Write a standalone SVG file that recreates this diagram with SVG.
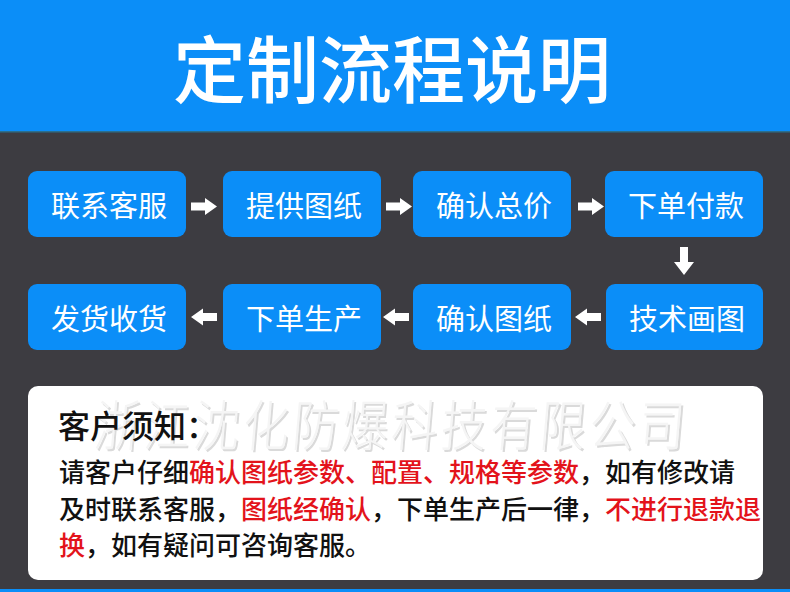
<svg xmlns="http://www.w3.org/2000/svg" width="790" height="592" viewBox="0 0 790 592">
<defs>
<style>
.node rect{fill:#0b8ef8;}
.node text{fill:#ffffff;font-family:"Noto Sans CJK SC","Noto Sans",sans-serif;font-size:29px;text-anchor:middle;}
.arrow{fill:#ffffff;}
.body{font-family:"Noto Sans CJK SC","Noto Sans",sans-serif;font-size:26px;fill:#111111;font-weight:500;}
.red{fill:#e3131b;}
.wm{font-family:"Noto Sans CJK SC",sans-serif;font-size:46px;letter-spacing:3.5px;font-weight:300;}
</style>
</defs>
<rect x="0" y="0" width="790" height="592" fill="#3d3c41"/>
<rect x="0" y="0" width="790" height="132" fill="#0b8ef8"/>
<rect x="0" y="131" width="790" height="1.5" fill="#2d6f8c"/>
<rect x="0" y="589" width="790" height="3" fill="#0b8ef8"/>
<text x="392" y="97" fill="#ffffff" font-family="'Noto Sans CJK SC','Noto Sans',sans-serif" font-size="73" font-weight="500" text-anchor="middle">定制流程说明</text>

<g id="n1" class="node"><rect x="28" y="171" width="158" height="66" rx="9"/><text x="109" y="217">联系客服</text></g>
<g id="n2" class="node"><rect x="223" y="171" width="158" height="66" rx="9"/><text x="304" y="217">提供图纸</text></g>
<g id="n3" class="node"><rect x="413" y="171" width="158" height="66" rx="9"/><text x="494" y="217">确认总价</text></g>
<g id="n4" class="node"><rect x="605" y="171" width="158" height="66" rx="9"/><text x="686" y="217">下单付款</text></g>
<g id="n5" class="node"><rect x="606" y="284" width="157" height="66" rx="9"/><text x="687" y="330">技术画图</text></g>
<g id="n6" class="node"><rect x="413" y="284" width="158" height="66" rx="9"/><text x="494" y="330">确认图纸</text></g>
<g id="n7" class="node"><rect x="223" y="284" width="158" height="66" rx="9"/><text x="304" y="330">下单生产</text></g>
<g id="n8" class="node"><rect x="28" y="284" width="158" height="66" rx="9"/><text x="109" y="330">发货收货</text></g>

<g id="connectors" class="arrow">
<polygon points="191,202.5 205,202.5 205,198 217,206.5 205,215 205,210.5 191,210.5"/>
<polygon points="386,202.5 400,202.5 400,198 412,206.5 400,215 400,210.5 386,210.5"/>
<polygon points="578,202.5 592,202.5 592,198 604,206.5 592,215 592,210.5 578,210.5"/>
<polygon points="680,247 688,247 688,262 694,262 684,275 674,262 680,262"/>
<polygon points="601,313 587,313 587,308.5 575,317 587,325.5 587,321 601,321"/>
<polygon points="409,313 395,313 395,308.5 383,317 395,325.5 395,321 409,321"/>
<polygon points="217,313 203,313 203,308.5 191,317 203,325.5 203,321 217,321"/>
</g>

<g id="notice">
<rect x="28" y="386" width="735" height="194" rx="10" fill="#ffffff"/>
<g transform="translate(0,446) scale(1,1.2) skewX(-6)">
<text class="wm" x="93" y="0" fill="#dadada" transform="translate(2,1.5)">浙江沈化防爆科技有限公司</text>
<text class="wm" x="93" y="0" fill="#f5f5f5">浙江沈化防爆科技有限公司</text>
</g>
<text x="58" y="438" font-family="'Noto Sans CJK SC','Noto Sans',sans-serif" font-size="32" font-weight="500" fill="#111111">客户须知：</text>
<text class="body" x="59" y="482">请客户仔细<tspan class="red">确认图纸参数、配置、规格等参数</tspan>，如有修改请</text>
<text class="body" x="59" y="519">及时联系客服，<tspan class="red">图纸经确认</tspan>，下单生产后一律，<tspan class="red">不进行退款退</tspan></text>
<text class="body" x="59" y="555"><tspan class="red">换</tspan>，如有疑问可咨询客服。</text>
</g>
</svg>
